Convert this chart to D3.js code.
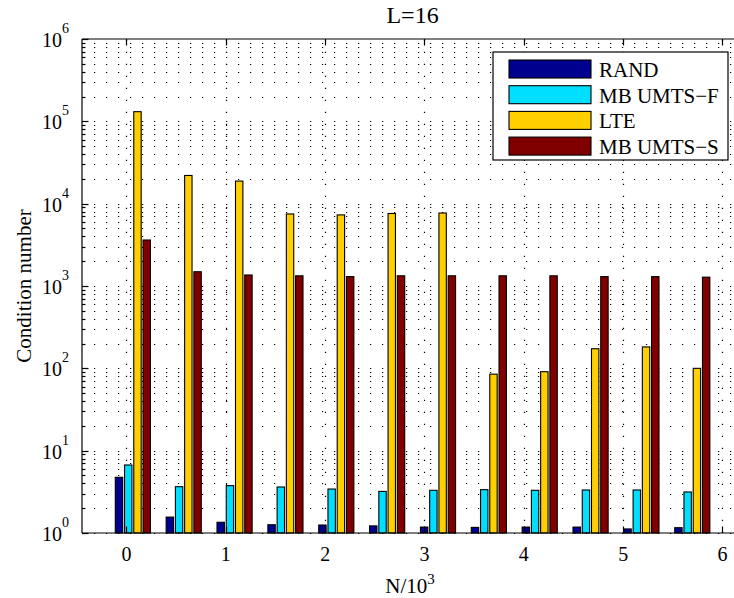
<!DOCTYPE html>
<html>
<head>
<meta charset="utf-8">
<script src="https://cdn.jsdelivr.net/npm/d3@7"></script>
<style>
  body { margin: 0; background: #fff; }
  svg { display: block; }
  text { font-family: "Liberation Serif", "Times New Roman", serif; fill: #000; }
</style>
</head>
<body>
<svg id="chart" width="734" height="598"></svg>
<script>
// Group positions along the x axis (N/10^3)
const groupX = [0.064, 0.576, 1.088, 1.6, 2.112, 2.624, 3.136, 3.648, 4.16, 4.672, 5.184, 5.696];
// Condition number for each scheme
const rand  = [4.75, 1.56, 1.35, 1.26, 1.25, 1.22, 1.18, 1.17, 1.18, 1.18, 1.12, 1.16];
const umtsF = [6.7, 3.65, 3.76, 3.62, 3.42, 3.2, 3.3, 3.36, 3.3, 3.33, 3.33, 3.15];
const lte   = [131000, 22000, 18800, 7500, 7300, 7600, 7700, 85, 91, 173, 182, 100];
const umtsS = [3620, 1490, 1360, 1330, 1300, 1330, 1330, 1330, 1330, 1300, 1300, 1280];
const seriesNames  = ["RAND", "MB UMTS\u2212F", "LTE", "MB UMTS\u2212S"];
const seriesColors = ["#00008f", "#00dfff", "#ffcf00", "#800000"];
const xTicks = [0, 1, 2, 3, 4, 5, 6];
const yExponents = [0, 1, 2, 3, 4, 5, 6];
const titleText = "L=16";

const series = [rand, umtsF, lte, umtsS];
const svg = d3.select("#chart");

const plot = { left: 82, top: 39, bottom: 533 };
const step = groupX[1] - groupX[0];
const x = d3.scaleLinear().domain([groupX[0] - step, groupX[groupX.length - 1] + step])
  .range([plot.left, plot.left + 6.656 * 99.33]);
const y = d3.scaleLog().domain([1, 1e6]).range([plot.bottom, plot.top]);
const plotRight = x.range()[1];

// grid: minor and major log lines (dotted), vertical lines at x ticks
const gridVals = [];
for (let e = 0; e < 6; e++) for (let m = 1; m <= 9; m++) gridVals.push(m * Math.pow(10, e));
const grid = svg.append("g").attr("stroke", "#000").attr("stroke-width", 1.2).attr("fill", "none");
grid.selectAll("line.h").data(gridVals).join("line").attr("class", "h")
  .attr("x1", plot.left).attr("x2", plotRight)
  .attr("y1", d => Math.round(y(d)) + 0.5).attr("y2", d => Math.round(y(d)) + 0.5)
  .attr("stroke-dasharray", "1.2,10.8");
grid.selectAll("line.v").data(xTicks).join("line").attr("class", "v")
  .attr("x1", d => Math.round(x(d)) + 0.5).attr("x2", d => Math.round(x(d)) + 0.5)
  .attr("y1", plot.bottom).attr("y2", plot.top)
  .attr("stroke-dasharray", "1.2,10.8");

// grouped bars
const nS = series.length;
const gw = Math.min(0.8, nS / (nS + 1.5)) * step;
const slot = gw / nS;
const bw = slot * 0.8;
series.forEach((vals, s) => {
  svg.append("g").selectAll("rect").data(vals).join("rect")
    .attr("x", (d, i) => x(groupX[i] - gw / 2 + (s + 0.5) * slot - bw / 2))
    .attr("width", x(bw) - x(0))
    .attr("y", d => y(d))
    .attr("height", d => y(1) - y(d))
    .attr("fill", seriesColors[s])
    .attr("stroke", "#000").attr("stroke-width", 1.1);
});

// axes frame
const frame = svg.append("g").attr("stroke", "#000").attr("stroke-width", 1.2).attr("fill", "none");
frame.append("line").attr("x1", plot.left).attr("x2", plotRight).attr("y1", plot.bottom).attr("y2", plot.bottom);
frame.append("line").attr("x1", plot.left).attr("x2", plotRight).attr("y1", plot.top).attr("y2", plot.top);
frame.append("line").attr("x1", plot.left).attr("x2", plot.left).attr("y1", plot.top).attr("y2", plot.bottom);

// x ticks (inward, bottom and top)
xTicks.forEach(t => {
  const px = Math.round(x(t)) + 0.5;
  frame.append("line").attr("x1", px).attr("x2", px).attr("y1", plot.bottom).attr("y2", plot.bottom - 6.5);
  frame.append("line").attr("x1", px).attr("x2", px).attr("y1", plot.top).attr("y2", plot.top + 6.5);
});
// y ticks: major and minor on the left axis
gridVals.concat([1e6]).forEach(v => {
  const major = Math.abs(Math.log10(v) - Math.round(Math.log10(v))) < 1e-9;
  const py = Math.round(y(v)) + 0.5;
  frame.append("line").attr("x1", plot.left).attr("x2", plot.left + (major ? 6.5 : 3.5))
    .attr("y1", py).attr("y2", py);
});

// tick labels
svg.append("g").selectAll("text").data(xTicks).join("text")
  .attr("x", d => x(d)).attr("y", 561).attr("text-anchor", "middle")
  .attr("font-size", 20).text(d => d);

const yl = svg.append("g").selectAll("text").data(yExponents).join("text")
  .attr("x", 69).attr("y", d => y(Math.pow(10, d)) + 8).attr("text-anchor", "end")
  .attr("font-size", 20);
yl.append("tspan").text("10");
yl.append("tspan").attr("font-size", 14).attr("dy", -14).text(d => d);

// axis labels and title
const xl = svg.append("text").attr("x", 410).attr("y", 593).attr("text-anchor", "middle").attr("font-size", 21);
xl.append("tspan").text("N/10");
xl.append("tspan").attr("font-size", 15).attr("dy", -9).text("3");

svg.append("text").attr("transform", "translate(31," + ((plot.top + plot.bottom) / 2) + ") rotate(-90)")
  .attr("text-anchor", "middle").attr("font-size", 21).text("Condition number");

svg.append("text").attr("x", (plot.left + plotRight) / 2).attr("y", 23)
  .attr("text-anchor", "middle").attr("font-size", 24).text(titleText);

// legend
const lg = svg.append("g").attr("transform", "translate(493,52)");
lg.append("rect").attr("width", 235).attr("height", 108).attr("fill", "#fff")
  .attr("stroke", "#000").attr("stroke-width", 1.2);
seriesNames.forEach((name, i) => {
  const yy = 8 + i * 25.7;
  lg.append("rect").attr("x", 16).attr("y", yy).attr("width", 82).attr("height", 18)
    .attr("fill", seriesColors[i]).attr("stroke", "#000").attr("stroke-width", 1.1);
  lg.append("text").attr("x", 106).attr("y", yy + 17).attr("font-size", 21).text(name);
});
</script>
</body>
</html>
